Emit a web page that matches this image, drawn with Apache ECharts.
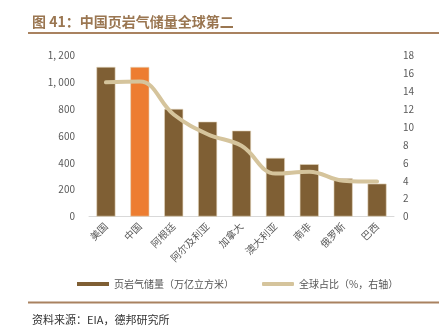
<!DOCTYPE html>
<html>
<head>
<meta charset="utf-8">
<script src="https://cdn.jsdelivr.net/npm/echarts@6/dist/echarts.min.js"></script>
<style>
html,body{margin:0;padding:0;background:#fff;}
#c{width:445px;height:331px;}
</style>
</head>
<body>
<div id="c"></div>
<script>
var categories = ['美国','中国','阿根廷','阿尔及利亚','加拿大','澳大利亚','南非','俄罗斯','巴西'];
var reserves = [1115, 1115, 802, 707, 640, 437, 390, 285, 245];
var share = [15.0, 15.1, 11.4, 9.2, 7.9, 4.8, 5.0, 4.0, 3.9];
var leftTicks = {min: 0, max: 1200, interval: 200};
var rightTicks = {min: 0, max: 18, interval: 2};

var FONT = '"Noto Sans CJK SC", "Noto Sans", sans-serif';
var chart = echarts.init(document.getElementById('c'), null, {renderer: 'canvas'});
chart.setOption({
  animation: false,
  textStyle: {fontFamily: FONT},
  title: [
    {text: '图 41：中国页岩气储量全球第二', left: 27, top: 10,
     textStyle: {color: '#9a7651', fontSize: 14, fontWeight: 'bold', fontFamily: FONT}},
    {text: '资料来源：EIA，德邦研究所', left: 27, top: 309,
     textStyle: {color: '#333', fontSize: 11, fontWeight: 'normal', fontFamily: FONT}}
  ],
  graphic: [
    {type: 'rect', shape: {x: 28, y: 32, width: 411, height: 2}, style: {fill: '#a98260'}},
    {type: 'rect', shape: {x: 28, y: 301.5, width: 411, height: 2}, style: {fill: '#a98260'}}
  ],
  legend: {
    top: 274, left: 72, itemGap: 28,
    textStyle: {color: '#555', fontSize: 10, fontFamily: FONT},
    data: [
      {name: '页岩气储量（万亿立方米）', icon: 'rect', itemStyle: {color: '#7f5f34', borderWidth: 0}},
      {name: '全球占比（%，右轴）', icon: 'roundRect', itemStyle: {color: '#d5c49c', borderWidth: 0}}
    ],
    itemWidth: 32, itemHeight: 4
  },
  grid: {left: 89, right: 51, top: 55.5, bottom: 114.5},
  xAxis: {
    type: 'category', data: categories,
    axisLine: {lineStyle: {color: '#d9d9d9', width: 1}},
    axisTick: {show: false},
    axisLabel: {rotate: 45, color: '#595959', fontSize: 10, margin: 8, interval: 0}
  },
  yAxis: [
    {type: 'value', min: leftTicks.min, max: leftTicks.max, interval: leftTicks.interval,
     splitLine: {show: false}, axisLine: {show: false}, axisTick: {show: false},
     axisLabel: {color: '#595959', fontSize: 10, margin: 14,
       formatter: function(v){ return v >= 1000 ? (Math.floor(v/1000) + ', ' + String(v%1000).padStart(3,'0')) : String(v); }}},
    {type: 'value', min: rightTicks.min, max: rightTicks.max, interval: rightTicks.interval,
     splitLine: {show: false}, axisLine: {show: false}, axisTick: {show: false},
     axisLabel: {color: '#595959', fontSize: 10, margin: 9}}
  ],
  series: [
    {name: '页岩气储量（万亿立方米）', type: 'bar', barWidth: 19, yAxisIndex: 0,
     data: reserves.map(function(v, i){
       return i === 1 ? {value: v, itemStyle: {color: '#ed7d31'}} : v;
     }),
     itemStyle: {color: '#7f5f34', borderColor: '#e6d8c0', borderWidth: 0.6}},
    {name: '全球占比（%，右轴）', type: 'line', yAxisIndex: 1, smooth: 0.4,
     symbol: 'none', data: share,
     lineStyle: {color: '#d5c49c', width: 4, cap: 'round'},
     itemStyle: {color: '#d5c49c'}}
  ]
});
</script>
</body>
</html>
